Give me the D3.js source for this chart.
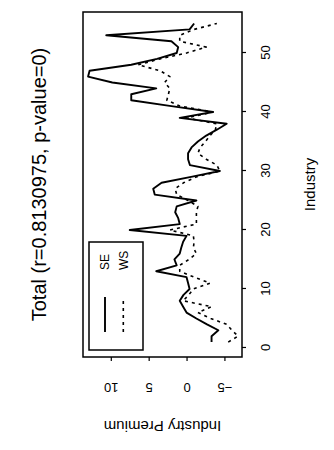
<!DOCTYPE html>
<html>
<head>
<meta charset="utf-8">
<script src="https://cdn.jsdelivr.net/npm/d3@7"></script>
<style>
  html, body { margin: 0; padding: 0; background: #fff; }
  svg { display: block; }
  text { font-family: "Liberation Sans", Arial, Helvetica, sans-serif; fill: #000; }
</style>
</head>
<body>
<script>
// Industry index (x) and the two premium series (y)
const industry = [1,2,3,4,5,6,7,8,9,10,11,12,13,14,15,16,17,18,19,20,21,22,23,24,25,26,27,28,29,30,
                  31,32,33,34,35,36,37,38,39,40,41,42,43,44,45,46,47,48,49,50,51,52,53,54,55];
const seValues = [-3.3,-3.3,-4.2,-2.7,-1.3,0.0,0.45,0.9,0.4,-0.4,-0.2,0.0,4.0,1.3,1.6,0.9,0.7,0.45,0.0,7.5,
                  0.9,1.1,1.5,1.3,-1.3,4.2,4.4,3.3,-0.6,-4.4,
                  -0.44,-0.2,-0.2,-0.66,-1.5,-2.6,-4.0,-5.3,0.9,-3.5,2.0,7.3,7.3,4.0,9.8,13.0,12.8,7.3,3.9,1.3,
                  1.1,2.0,10.6,-0.4,-1.0];
const wsValues = [-5.5,-6.8,-6.0,-5.3,-3.2,-1.5,-3.3,0.45,-0.3,-0.9,-3.1,-1.0,0.9,0.9,-0.3,-1.3,-0.9,-1.0,-0.9,2.2,
                  -1.3,-1.3,-1.3,-1.5,-0.2,1.3,1.5,0.4,-1.3,-4.4,
                  -4.0,-2.6,-1.5,-1.8,-2.5,-3.1,-3.8,-4.0,0.0,-3.5,0.9,2.6,2.4,2.2,2.9,2.2,3.5,6.4,3.5,0.0,
                  -2.6,0.9,0.9,-1.0,-4.0];
const industryTicks = [0, 10, 20, 30, 40, 50];
const premiumTicks = [-5, 0, 5, 10];
const seriesNames = ["SE", "WS"];
const titleText = "Total (r=0.8130975, p-value=0)";

// The figure is laid out landscape (450 x 334) and then turned a quarter turn
// counter-clockwise onto the 334 x 450 page.
const W = 450, H = 334;
const svg = d3.select("body").append("svg").attr("width", 334).attr("height", 450);
const g = svg.append("g").attr("transform", `translate(0,${W}) rotate(-90)`);

const plot = { left: 93, right: 438, top: 83, bottom: 242 };

const x = d3.scaleLinear().domain([-1.53, 56.95]).range([plot.left, plot.right]);
const y = d3.scaleLinear().domain([-7.32, 13.67]).range([plot.bottom, plot.top]);

// Series lines
const line = d3.line().x((d, i) => x(industry[i])).y(d => y(d));
g.append("path").datum(wsValues).attr("d", line)
  .attr("fill", "none").attr("stroke", "#000").attr("stroke-width", 1.6)
  .attr("stroke-dasharray", "3,4").attr("stroke-linejoin", "round");
g.append("path").datum(seValues).attr("d", line)
  .attr("fill", "none").attr("stroke", "#000").attr("stroke-width", 1.9)
  .attr("stroke-linejoin", "round");

// Plot frame
g.append("rect").attr("x", plot.left).attr("y", plot.top)
  .attr("width", plot.right - plot.left).attr("height", plot.bottom - plot.top)
  .attr("fill", "none").attr("stroke", "#000").attr("stroke-width", 1.5);

// Industry axis (bottom of the landscape layout)
const xAxis = g.append("g").attr("transform", `translate(0,${plot.bottom})`)
  .call(d3.axisBottom(x).tickValues(industryTicks).tickSize(4).tickPadding(15).tickFormat(d3.format("d")));
xAxis.select(".domain").remove();
xAxis.selectAll("line").attr("stroke", "#000").attr("stroke-width", 1.2);
xAxis.selectAll("text").attr("font-size", 13);

// Premium axis (left of the landscape layout), labels parallel to the axis
const yAxis = g.append("g").attr("transform", `translate(${plot.left},0)`)
  .call(d3.axisLeft(y).tickValues(premiumTicks).tickSize(4).tickFormat(d3.format("d")));
yAxis.select(".domain").remove();
yAxis.selectAll("line").attr("stroke", "#000").attr("stroke-width", 1.2);
yAxis.selectAll("text")
  .attr("x", null).attr("dy", null)
  .attr("text-anchor", "middle")
  .attr("transform", "translate(-31,0) rotate(-90)")
  .attr("dy", "0.35em")
  .attr("font-size", 13);

// Axis titles
g.append("text").attr("x", (plot.left + plot.right) / 2).attr("y", 310)
  .attr("text-anchor", "middle").attr("dy", "0.35em").attr("font-size", 15).text("Industry");
g.append("text").attr("transform", `translate(24,${(plot.top + plot.bottom) / 2}) rotate(-90)`)
  .attr("text-anchor", "middle").attr("dy", "0.35em").attr("font-size", 15).text("Industry Premium");

// Main title
g.append("text").attr("x", (plot.left + plot.right) / 2).attr("y", 46)
  .attr("text-anchor", "middle").attr("font-size", 20).text(titleText);

// Legend
const leg = g.append("g");
leg.append("rect").attr("x", 100).attr("y", 89).attr("width", 108).attr("height", 54)
  .attr("fill", "#fff").attr("stroke", "#000").attr("stroke-width", 1.5);
const legRows = [105, 123.3];
seriesNames.forEach((name, k) => {
  leg.append("line").attr("x1", 118).attr("x2", 153).attr("y1", legRows[k]).attr("y2", legRows[k])
    .attr("stroke", "#000").attr("stroke-width", k === 0 ? 1.9 : 1.6)
    .attr("stroke-dasharray", k === 0 ? null : "3,4");
  leg.append("text").attr("x", 180).attr("y", legRows[k]).attr("dy", "0.35em")
    .attr("font-size", 12).text(name);
});
</script>
</body>
</html>
